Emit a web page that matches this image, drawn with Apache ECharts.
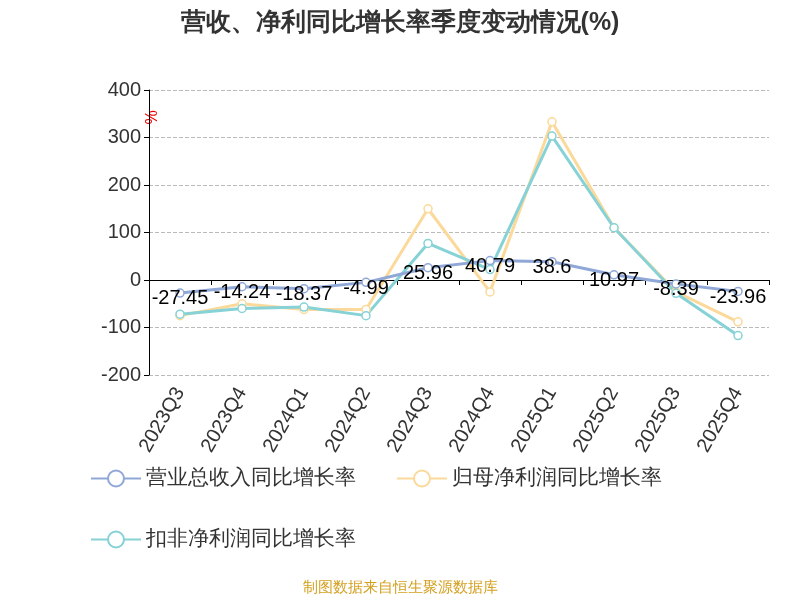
<!DOCTYPE html>
<html><head><meta charset="utf-8">
<script src="https://cdn.jsdelivr.net/npm/echarts@6/dist/echarts.min.js"></script>
<style>html,body{margin:0;padding:0}#c{width:800px;height:600px}</style>
</head><body><div id="c"></div>
<script>
const categories = ["2023Q3","2023Q4","2024Q1","2024Q2","2024Q3","2024Q4","2025Q1","2025Q2","2025Q3","2025Q4"];
const revenue = [-27.45,-14.24,-18.37,-4.99,25.96,40.79,38.6,10.97,-8.39,-23.96];
const netProfit = [-75,-50,-62,-62,150,-25,333,110,-25,-88];
const deducted = [-72,-60,-57,-75,77,22,303,110,-28,-117];

let chart = echarts.init(document.getElementById("c"));
let mk = (name, data, color, label) => ({
  name: name, type: "line", data: data, symbol: "circle", symbolSize: 8,
  itemStyle: { color: "#fff", borderColor: color, borderWidth: 1.5 },
  lineStyle: { color: color, width: 3 },
  label: label ? { show: true, position: "bottom", color: "#000", fontSize: 20, offset: [0, -14] } : { show: false },
  z: label ? 5 : 3
});
chart.setOption({
  title: { text: "营收、净利同比增长率季度变动情况(%)", left: "center", top: 6,
    textStyle: { fontSize: 25, fontWeight: "bold", color: "#333" } },
  grid: { left: 149, right: 31, top: 90, bottom: 225 },
  legend: { bottom: 45, left: 85, width: 680, itemGap: 40, itemWidth: 50, itemHeight: 20,
    textStyle: { fontSize: 21, color: "#333" },
    data: [
      { name: "营业总收入同比增长率", itemStyle: { color: "#fff", borderColor: "#8fa8d8" }, lineStyle: { color: "#8fa8d8" } },
      { name: "归母净利润同比增长率", itemStyle: { color: "#fff", borderColor: "#fbd99a" }, lineStyle: { color: "#fbd99a" } },
      { name: "扣非净利润同比增长率", itemStyle: { color: "#fff", borderColor: "#86d2d6" }, lineStyle: { color: "#86d2d6" } }
    ] },
  xAxis: { type: "category", data: categories, boundaryGap: true,
    axisLine: { onZero: true, lineStyle: { color: "#000" } },
    axisTick: { show: true, alignWithLabel: false, lineStyle: { color: "#000" } },
    axisLabel: { rotate: 60, fontSize: 20, color: "#333", interval: 0, margin: 14 } },
  yAxis: { type: "value", min: -200, max: 400, interval: 100, name: "%",
    nameLocation: "end", nameRotate: -90, nameGap: -50,
    nameTextStyle: { color: "#e00", fontSize: 16, padding: [0, 0, 0, -125] },
    axisLine: { show: true, lineStyle: { color: "#000" } },
    axisTick: { show: true },
    axisLabel: { fontSize: 20, color: "#333" },
    splitLine: { lineStyle: { type: "dashed", color: "#bbb" } } },
  series: [
    mk("营业总收入同比增长率", revenue, "#8fa8d8", true),
    mk("归母净利润同比增长率", netProfit, "#fbd99a", false),
    mk("扣非净利润同比增长率", deducted, "#86d2d6", false)
  ],
  graphic: [{ type: "text", left: "center", top: 580,
    style: { text: "制图数据来自恒生聚源数据库", fill: "#d4a020", fontSize: 15 } }]
});
</script></body></html>
